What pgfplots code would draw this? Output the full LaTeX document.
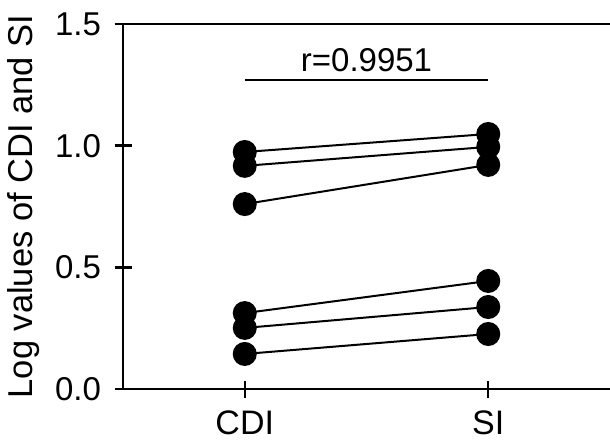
\documentclass[border=0pt]{standalone}
\usepackage{pgfplots}
\pgfplotsset{compat=1.18}
\usepackage{fontspec}
\setmainfont{Liberation Sans}
\begin{document}
\begin{tikzpicture}
\useasboundingbox (0,0) rectangle (610pt,442pt);
\begin{axis}[
  at={(123pt,53pt)}, anchor=south west,
  scale only axis, width=487pt, height=365pt,
  xmin=-0.5, xmax=1.5, ymin=0, ymax=1.5,
  axis x line=box, axis y line=left, axis line style={-, line width=2.8pt},
  xtick={0,1}, xticklabels={CDI,SI}, xtick pos=bottom,
  ytick={0,0.5,1,1.5},
  /pgf/number format/assume math mode=true,
  tick align=center, major tick length=17pt,
  tick style={line width=2.4pt, black},
  yticklabel style={/pgf/number format/fixed, /pgf/number format/fixed zerofill, /pgf/number format/precision=1, font=\fontsize{33}{38}\selectfont, xshift=-10pt},
  xticklabel style={font=\fontsize{34}{39}\selectfont, inner sep=0pt, yshift=-13pt},
  clip=false,
]
\addplot[black, line width=2pt, mark=*, mark size=11pt] coordinates {(0,0.974) (1,1.048)};
\addplot[black, line width=2pt, mark=*, mark size=11pt] coordinates {(0,0.917) (1,0.995)};
\addplot[black, line width=2pt, mark=*, mark size=11pt] coordinates {(0,0.760) (1,0.921)};
\addplot[black, line width=2pt, mark=*, mark size=11pt] coordinates {(0,0.312) (1,0.444)};
\addplot[black, line width=2pt, mark=*, mark size=11pt] coordinates {(0,0.251) (1,0.337)};
\addplot[black, line width=2pt, mark=*, mark size=11pt] coordinates {(0,0.144) (1,0.226)};
\draw[line width=2.6pt] (axis cs:0,1.27) -- (axis cs:1,1.27);
\node[font=\fontsize{33}{38}\selectfont, anchor=base] at (axis cs:0.5,1.305) {r=0.9951};
\node[font=\fontsize{34.5}{40}\selectfont, rotate=90, anchor=center] at ([xshift=-99pt]rel axis cs:0,0.5) {Log values of CDI and SI};
\end{axis}
\end{tikzpicture}
\end{document}
